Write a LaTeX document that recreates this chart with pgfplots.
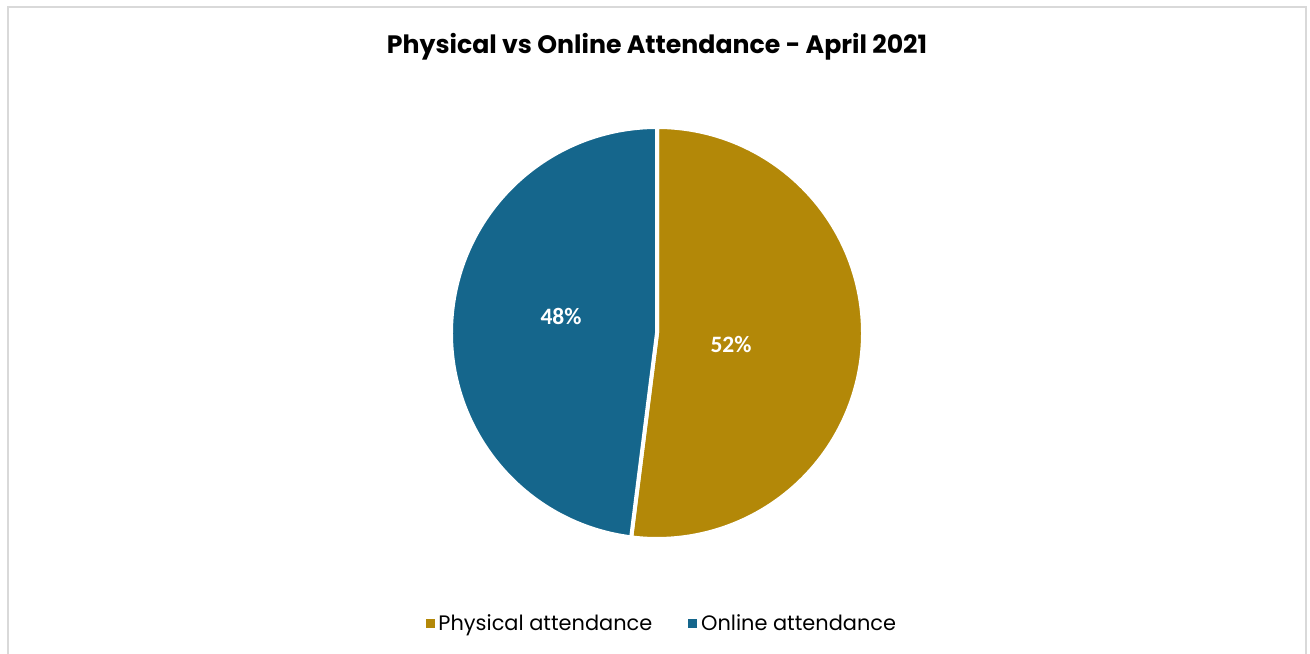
\documentclass[border=0pt]{standalone}
\usepackage{pgfplots}
\pgfplotsset{compat=1.18}
\usepackage{pgfplotstable}
\usepackage{fontspec}
\setmainfont{Poppins}
\newfontfamily\labelfont{Carlito}
\definecolor{physgold}{HTML}{B38808}
\definecolor{onlineblue}{HTML}{15668C}
\definecolor{framegray}{HTML}{D9D9D9}

\pgfplotstableread{
label value
Physical 52
Online 48
}\piedata

\begin{document}
\begin{tikzpicture}
\path[use as bounding box] (0,0) rectangle (655pt,326.5pt);
\pgfplotstablegetelem{0}{value}\of\piedata \let\vA\pgfplotsretval
\pgfplotstablegetelem{1}{value}\of\piedata \let\vB\pgfplotsretval
\pgfmathsetmacro\aEnd{90-\vA*3.6}
\pgfmathsetmacro\bEnd{\aEnd-\vB*3.6}
\begin{axis}[at={(0,0)}, anchor=south west, scale only axis,
  width=655pt, height=326.5pt,
  xmin=0, xmax=1310, ymin=0, ymax=653,
  hide axis, clip=false,
  legend columns=2,
  legend style={draw=none, fill=none, at={(0.506,0.045)}, anchor=center,
    font=\fontsize{10.45}{12}\selectfont,
    /tikz/every even column/.append style={column sep=16pt}},
  legend cell align=left,
]
\draw[framegray, line width=1pt] (axis cs:7.5,-20) rectangle (axis cs:1305.5,645.5);
\addlegendimage{legend image code/.code={\fill[physgold] (0pt,-2pt) rectangle (4pt,2pt);}}
\addlegendentry{Physical attendance}
\addlegendimage{legend image code/.code={\fill[onlineblue] (0pt,-2pt) rectangle (4pt,2pt);}}
\addlegendentry{Online attendance}
\fill[physgold, draw=white, line width=2pt] (axis cs:657,320) -- ++(90:103pt) arc[start angle=90, end angle=\aEnd, radius=103pt] -- cycle;
\fill[onlineblue, draw=white, line width=2pt] (axis cs:657,320) -- ++(\aEnd:103pt) arc[start angle=\aEnd, end angle=\bEnd, radius=103pt] -- cycle;
\node[white, font=\labelfont\bfseries\fontsize{11.75}{14}\selectfont] at (axis cs:561,337) {48\%};
\node[white, font=\labelfont\bfseries\fontsize{11.75}{14}\selectfont] at (axis cs:731,309) {52\%};
\node[anchor=base, font=\bfseries\fontsize{12.6}{14}\selectfont] at (axis cs:657,599) {Physical vs Online Attendance - April 2021};
\end{axis}
\end{tikzpicture}
\end{document}
